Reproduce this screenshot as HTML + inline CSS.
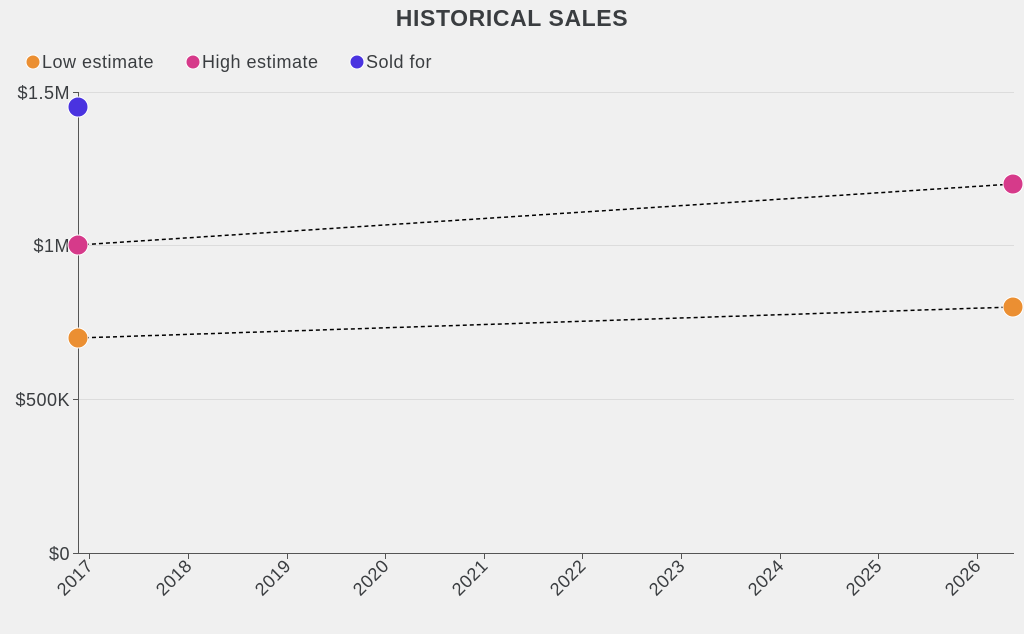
<!DOCTYPE html>
<html><head><meta charset="utf-8"><style>
html,body{margin:0;padding:0;background:#f0f0f0;}
svg{display:block;font-family:"Liberation Sans",sans-serif;}
</style></head><body>
<svg width="1024" height="634" viewBox="0 0 1024 634">
<rect width="1024" height="634" fill="#f0f0f0"/>
<text x="512" y="26" text-anchor="middle" font-size="23" font-weight="bold" letter-spacing="0.6" fill="#3a3d40">HISTORICAL SALES</text>
<g font-size="18" fill="#3a3d40" letter-spacing="0.5">
<circle cx="33" cy="62" r="7" fill="#eb8f32" stroke="#fff" stroke-width="1"/><text x="42" y="68">Low estimate</text>
<circle cx="193" cy="62" r="7" fill="#d63a8a" stroke="#fff" stroke-width="1"/><text x="202" y="68">High estimate</text>
<circle cx="357" cy="62" r="7" fill="#4a33e0" stroke="#fff" stroke-width="1"/><text x="366" y="68">Sold for</text>
</g>
<g stroke="#dcdcdc" stroke-width="1">
<line x1="78" y1="92.5" x2="1014" y2="92.5"/>
<line x1="78" y1="245.5" x2="1014" y2="245.5"/>
<line x1="78" y1="399.5" x2="1014" y2="399.5"/>
</g>
<g stroke="#555" stroke-width="1">
<line x1="78.5" y1="92" x2="78.5" y2="553"/>
<line x1="78" y1="553.5" x2="1014" y2="553.5"/>
<line x1="73" y1="92.5" x2="78" y2="92.5"/>
<line x1="73" y1="245.5" x2="78" y2="245.5"/>
<line x1="73" y1="399.5" x2="78" y2="399.5"/>
<line x1="73" y1="553.5" x2="78" y2="553.5"/>
</g>
<g font-size="18" fill="#3a3d40" text-anchor="end" letter-spacing="0.5">
<text x="70" y="99">$1.5M</text>
<text x="70" y="252">$1M</text>
<text x="70" y="406">$500K</text>
<text x="70" y="560">$0</text>
</g>
<g stroke="#555" stroke-width="1">
<line x1="89.5" y1="553" x2="89.5" y2="559"/><line x1="188.5" y1="553" x2="188.5" y2="559"/>
<line x1="287.5" y1="553" x2="287.5" y2="559"/><line x1="385.5" y1="553" x2="385.5" y2="559"/>
<line x1="484.5" y1="553" x2="484.5" y2="559"/><line x1="582.5" y1="553" x2="582.5" y2="559"/>
<line x1="681.5" y1="553" x2="681.5" y2="559"/><line x1="780.5" y1="553" x2="780.5" y2="559"/>
<line x1="878.5" y1="553" x2="878.5" y2="559"/><line x1="977.5" y1="553" x2="977.5" y2="559"/>
</g>
<g font-size="18" fill="#3a3d40" text-anchor="end" letter-spacing="0.5">
<text transform="translate(94,567) rotate(-45)">2017</text>
<text transform="translate(193,567) rotate(-45)">2018</text>
<text transform="translate(292,567) rotate(-45)">2019</text>
<text transform="translate(390,567) rotate(-45)">2020</text>
<text transform="translate(489,567) rotate(-45)">2021</text>
<text transform="translate(587,567) rotate(-45)">2022</text>
<text transform="translate(686,567) rotate(-45)">2023</text>
<text transform="translate(785,567) rotate(-45)">2024</text>
<text transform="translate(883,567) rotate(-45)">2025</text>
<text transform="translate(982,567) rotate(-45)">2026</text>
</g>
<g stroke="#000" stroke-width="1.5" stroke-dasharray="4,3">
<line x1="78" y1="245" x2="1013" y2="184"/>
<line x1="78" y1="338" x2="1013" y2="307"/>
</g>
<g stroke="#fff" stroke-width="1">
<circle cx="78" cy="107" r="10" fill="#4a33e0"/>
<circle cx="78" cy="245" r="10" fill="#d63a8a"/>
<circle cx="78" cy="338" r="10" fill="#eb8f32"/>
<circle cx="1013" cy="184" r="10" fill="#d63a8a"/>
<circle cx="1013" cy="307" r="10" fill="#eb8f32"/>
</g>
</svg>
</body></html>
